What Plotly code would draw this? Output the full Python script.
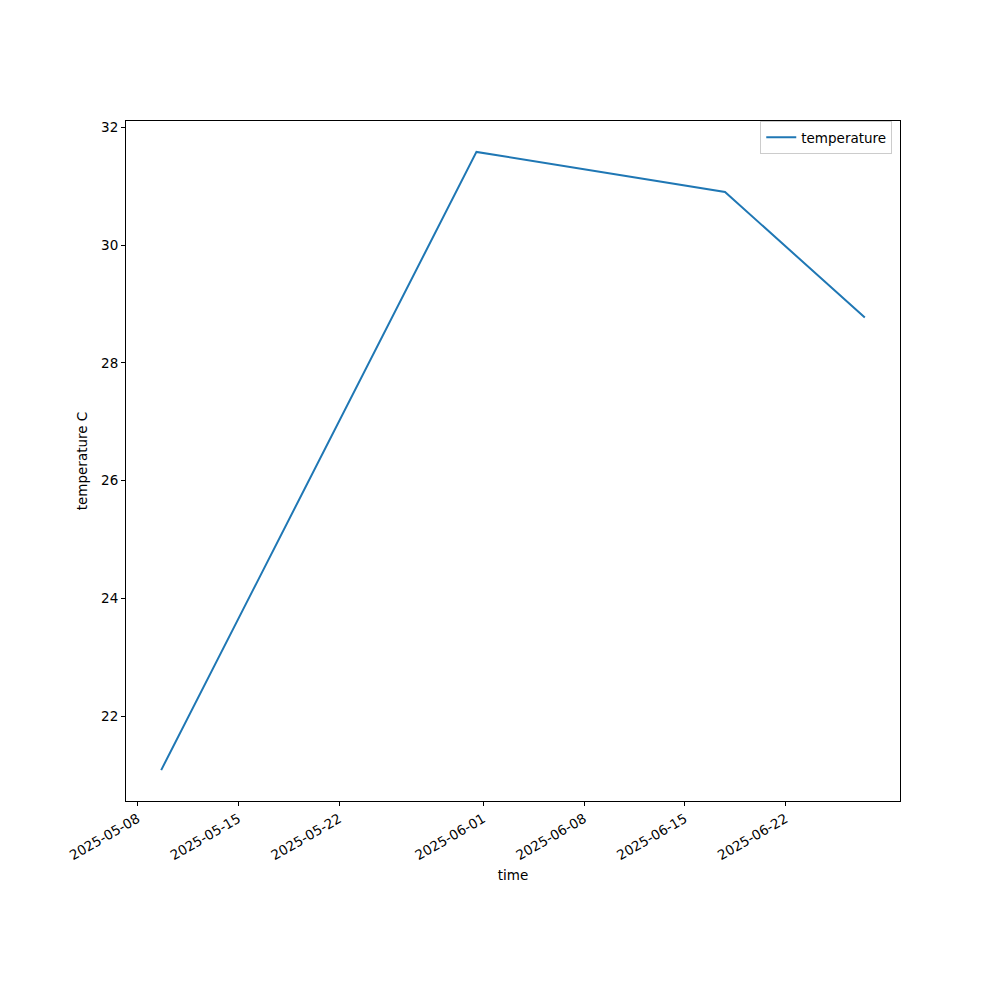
import plotly.graph_objects as go
import pandas as pd

times = ["2025-05-09 15:20", "2025-05-31 12:45", "2025-06-17 19:00", "2025-06-27 12:00"]
temperature = [21.09, 31.58, 30.90, 28.77]
x_tick_dates = ["2025-05-08", "2025-05-15", "2025-05-22", "2025-06-01", "2025-06-08", "2025-06-15", "2025-06-22"]
y_ticks = [22, 24, 26, 28, 30, 32]

t = pd.to_datetime(times)
span = t.max() - t.min()
xr = [t.min() - span * 0.05, t.max() + span * 0.05]
ymin, ymax = min(temperature), max(temperature)
yr = [ymin - (ymax - ymin) * 0.05, ymax + (ymax - ymin) * 0.05]

font = dict(family="DejaVu Sans", size=13.5, color="black")

fig = go.Figure()
fig.add_trace(go.Scatter(x=t, y=temperature, mode="lines", name="temperature",
                         line=dict(color="#1f77b4", width=2), showlegend=True))

fig.update_layout(
    width=1000, height=1000,
    margin=dict(l=118, r=108, t=113, b=207),
    plot_bgcolor="white", paper_bgcolor="white",
    font=font,
    showlegend=True,
    legend=dict(x=0.99, xanchor="right", y=1.0, yanchor="top",
                bordercolor="#cccccc", borderwidth=1, bgcolor="white",
                font=font),
    xaxis=dict(range=xr, tickvals=pd.to_datetime(x_tick_dates), ticktext=x_tick_dates,
               tickangle=-30, ticks="outside", ticklen=4, tickcolor="black",
               tickfont=font,
               showline=True, linecolor="black", linewidth=1, mirror=True,
               showgrid=False, zeroline=False,
               title=dict(text="time", font=font, standoff=8)),
    yaxis=dict(range=yr, tickvals=y_ticks, ticks="outside", ticklen=4, tickcolor="black",
               tickfont=font,
               showline=True, linecolor="black", linewidth=1, mirror=True,
               showgrid=False, zeroline=False,
               title=dict(text="temperature C", font=font, standoff=10)),
)

fig.write_html("out.html")
